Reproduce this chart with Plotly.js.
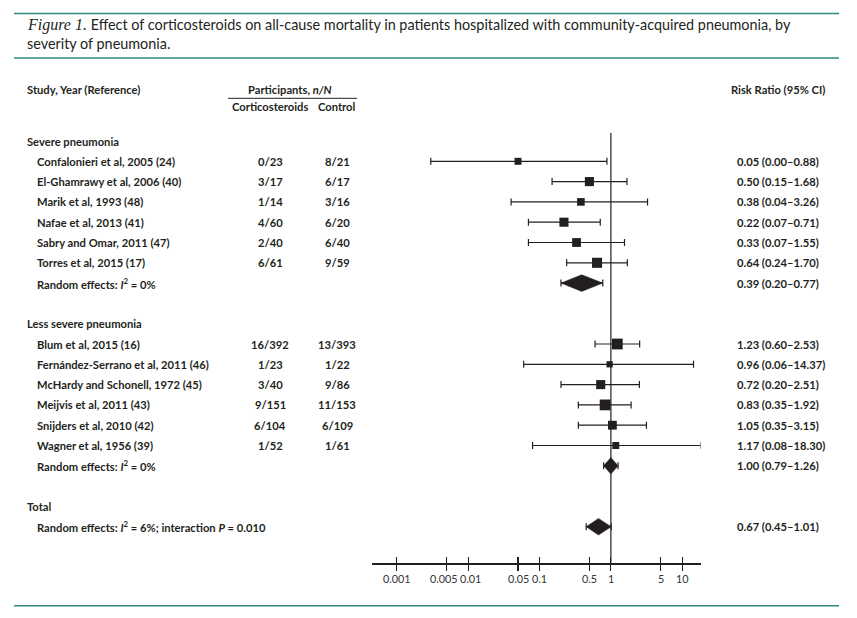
<!DOCTYPE html>
<html><head><meta charset="utf-8">
<script src="https://cdn.plot.ly/plotly-3.0.1.min.js"></script>
<style>html,body{margin:0;padding:0;background:#fff}#chart{width:857px;height:618px}</style>
</head><body><div id="chart"></div>
<script>
// ---------- data ----------
const severeStudies = ["Confalonieri et al, 2005 (24)", "El-Ghamrawy et al, 2006 (40)", "Marik et al, 1993 (48)", "Nafae et al, 2013 (41)", "Sabry and Omar, 2011 (47)", "Torres et al, 2015 (17)"];
const severeCort = ["0/23", "3/17", "1/14", "4/60", "2/40", "6/61"];
const severeCtrl = ["8/21", "6/17", "3/16", "6/20", "6/40", "9/59"];
const severeRR = [0.05, 0.50, 0.38, 0.22, 0.33, 0.64];
const severeLo = [0.003, 0.15, 0.04, 0.07, 0.07, 0.24];
const severeHi = [0.88, 1.68, 3.26, 0.71, 1.55, 1.70];
const severeWeight = [10, 17, 12, 17, 16, 21];

const lessStudies = ["Blum et al, 2015 (16)", "Fernández-Serrano et al, 2011 (46)", "McHardy and Schonell, 1972 (45)", "Meijvis et al, 2011 (43)", "Snijders et al, 2010 (42)", "Wagner et al, 1956 (39)"];
const lessCort = ["16/392", "1/23", "3/40", "9/151", "6/104", "1/52"];
const lessCtrl = ["13/393", "1/22", "9/86", "11/153", "6/109", "1/61"];
const lessRR = [1.23, 0.96, 0.72, 0.83, 1.05, 1.17];
const lessLo = [0.60, 0.06, 0.20, 0.35, 0.35, 0.08];
const lessHi = [2.53, 14.37, 2.51, 1.92, 3.15, 18.30];
const lessWeight = [24, 8, 17, 24, 16, 10];

const pooledLabels = ["Random effects: <i>I</i><sup>2</sup> = 0%", "Random effects: <i>I</i><sup>2</sup> = 0%", "Random effects: <i>I</i><sup>2</sup> = 6%; interaction <i>P</i> = 0.010"];
const pooledRR = [0.39, 1.00, 0.67];
const pooledLo = [0.20, 0.79, 0.45];
const pooledHi = [0.77, 1.26, 1.01];

const groupTitles = ["Severe pneumonia", "Less severe pneumonia", "Total"];
const tickValues = [0.001, 0.005, 0.01, 0.05, 0.1, 0.5, 1, 5, 10];
const tickLabels = ["0.001", "0.005", "0.01", "0.05", "0.1", "0.5", "1", "5", "10"];
const nullValue = 1;

// ---------- layout helpers ----------
const W = 857, H = 618;
const INK = "#231f20", TEAL = "#2e8985";
const FONT = "Lato, 'Open Sans', sans-serif";
const px = v => v / W;
const py = v => 1 - v / H;
const ROW0 = 141, ROWH = 20.3, AXIS_PX = 563.3;
const yTop = -ROW0 / ROWH, yBot = (AXIS_PX - ROW0) / ROWH;
const fmt = v => v.toFixed(2);
const sizeOf = w => 2.2 * Math.sqrt(w);

// rows: 0 header severe, 1-6 studies, 7 pooled; 9 header less, 10-15, 16 pooled; 18 Total, 19 pooled
const severeRows = severeStudies.map((_, i) => 1 + i);
const lessRows = lessStudies.map((_, i) => 10 + i);
const pooledRows = [7, 16, 19];
const groupRows = [0, 9, 18];

const studyRR = severeRR.concat(lessRR);
const studyLo = severeLo.concat(lessLo);
const studyHi = severeHi.concat(lessHi);
const studyRows = severeRows.concat(lessRows);
const studyWeight = severeWeight.concat(lessWeight);

const traces = [];
traces.push({
  type: "scatter", mode: "lines", xaxis: "x2", yaxis: "y",
  x: [nullValue, nullValue], y: [-0.4, yBot],
  line: {color: INK, width: 1.2}, hoverinfo: "skip", showlegend: false
});
traces.push({
  type: "scatter", mode: "markers", x: studyRR, y: studyRows, cliponaxis: false,
  marker: {symbol: "square", size: studyWeight.map(sizeOf), color: INK, opacity: 1, line: {width: 0}},
  error_x: {type: "data", symmetric: false,
    array: studyHi.map((h, i) => h - studyRR[i]),
    arrayminus: studyLo.map((l, i) => studyRR[i] - l),
    color: INK, thickness: 1.2, width: 3.5},
  showlegend: false, hoverinfo: "skip"
});
const DH = 0.41;
pooledRR.forEach((r, i) => {
  const y = pooledRows[i];
  traces.push({
    type: "scatter", mode: "lines", fill: "toself", cliponaxis: false,
    x: [pooledLo[i], r, pooledHi[i], r, pooledLo[i]],
    y: [y, y - DH, y, y + DH, y],
    line: {color: INK, width: 0.5}, fillcolor: INK, showlegend: false, hoverinfo: "skip"
  });
  traces.push({
    type: "scatter", mode: "markers", x: [r], y: [y], cliponaxis: false,
    marker: {size: 1, color: "rgba(0,0,0,0)"},
    error_x: {type: "data", symmetric: false, array: [pooledHi[i] - r], arrayminus: [r - pooledLo[i]],
      color: INK, thickness: 1.2, width: 3.5},
    showlegend: false, hoverinfo: "skip"
  });
});

const ann = [];
const bodyFont = {family: FONT, size: 11.2, color: INK, weight: 700};
function txt(text, x, y, anchor, extra) {
  ann.push(Object.assign({text: text, x: px(x), xref: "paper", y: y, yref: "y",
    xanchor: anchor, yanchor: "middle", showarrow: false, font: bodyFont}, extra || {}));
}
// title
const titleFont = {family: FONT, size: 14.4, color: INK};
ann.push({text: "<span style=\"font-family:'Liberation Serif',serif;font-style:italic;font-size:16px\">Figure 1.</span> Effect of corticosteroids on all-cause mortality in patients hospitalized with community-acquired pneumonia, by",
  x: px(25), y: py(25), xref: "paper", yref: "paper", xanchor: "left", yanchor: "middle", showarrow: false,
  font: titleFont});
ann.push({text: "severity of pneumonia.",
  x: px(25), y: py(43), xref: "paper", yref: "paper", xanchor: "left", yanchor: "middle", showarrow: false,
  font: titleFont});
// headers
const hRow1 = (89.5 - ROW0) / ROWH, hRow2 = (106.7 - ROW0) / ROWH;
txt("Study, Year (Reference)", 25, hRow1, "left");
txt("Participants, <i>n/N</i>", 290, hRow1, "center");
txt("Corticosteroids", 270, hRow2, "center");
txt("Control", 337, hRow2, "center");
txt("Risk Ratio (95% CI)", 827, hRow1, "right");

groupTitles.forEach((g, i) => txt(g, 25, groupRows[i], "left"));
severeStudies.forEach((s, i) => {
  txt(s, 35, severeRows[i], "left");
  txt(severeCort[i], 270, severeRows[i], "center");
  txt(severeCtrl[i], 337, severeRows[i], "center");
  txt(fmt(severeRR[i]) + " (" + fmt(severeLo[i]) + "–" + fmt(severeHi[i]) + ")", 735, severeRows[i], "left");
});
lessStudies.forEach((s, i) => {
  txt(s, 35, lessRows[i], "left");
  txt(lessCort[i], 270, lessRows[i], "center");
  txt(lessCtrl[i], 337, lessRows[i], "center");
  txt(fmt(lessRR[i]) + " (" + fmt(lessLo[i]) + "–" + fmt(lessHi[i]) + ")", 735, lessRows[i], "left");
});
pooledLabels.forEach((p, i) => {
  txt(p, 35, pooledRows[i], "left");
  txt(fmt(pooledRR[i]) + " (" + fmt(pooledLo[i]) + "–" + fmt(pooledHi[i]) + ")", 735, pooledRows[i], "left");
});
// axis tick labels (placed on the log axis so they follow the axis scale)
const tickShift = {"0.005": -3, "0.01": 2};
tickValues.forEach((v, i) => {
  ann.push({text: tickLabels[i], x: Math.log10(v), xref: "x", y: py(578), yref: "paper",
    xanchor: "center", yanchor: "middle", xshift: tickShift[tickLabels[i]] || 0, showarrow: false,
    font: {family: FONT, size: 10.8, color: "#333"}});
});

const shapes = [
  {type: "line", xref: "paper", yref: "paper", x0: px(14), x1: px(839), y0: py(13.5), y1: py(13.5), line: {color: TEAL, width: 1.5}},
  {type: "line", xref: "paper", yref: "paper", x0: px(14), x1: px(839), y0: py(58), y1: py(58), line: {color: TEAL, width: 1.5}},
  {type: "line", xref: "paper", yref: "paper", x0: px(14), x1: px(839), y0: py(605.7), y1: py(605.7), line: {color: TEAL, width: 1.5}},
  {type: "line", xref: "paper", yref: "paper", x0: px(228), x1: px(357), y0: py(98.3), y1: py(98.3), line: {color: INK, width: 1}}
];

const xr = [-3.342, 1.258];
const dom = [px(372.3), px(700.7)];
const layout = {
  width: W, height: H, margin: {l: 0, r: 0, t: 0, b: 0},
  paper_bgcolor: "#fff", plot_bgcolor: "rgba(0,0,0,0)",
  showlegend: false,
  xaxis: {type: "log", range: xr, domain: dom, anchor: "y", showline: true, linecolor: INK, linewidth: 1.2,
    ticks: "outside", ticklen: 6, tickwidth: 1.2, tickcolor: INK,
    tickmode: "array", tickvals: tickValues, showticklabels: false,
    showgrid: false, zeroline: false, fixedrange: true},
  xaxis2: {type: "log", range: xr, domain: dom, anchor: "y", overlaying: "x", side: "bottom",
    ticks: "inside", ticklen: 6, tickwidth: 1.2, tickcolor: INK,
    tickmode: "array", tickvals: tickValues, showticklabels: false,
    showline: false, showgrid: false, zeroline: false, fixedrange: true},
  yaxis: {domain: [1 - AXIS_PX / H, 1], range: [yBot, yTop], visible: false, fixedrange: true},
  annotations: ann, shapes: shapes
};
Plotly.newPlot("chart", traces, layout, {staticPlot: true, displayModeBar: false});
</script>
</body></html>
